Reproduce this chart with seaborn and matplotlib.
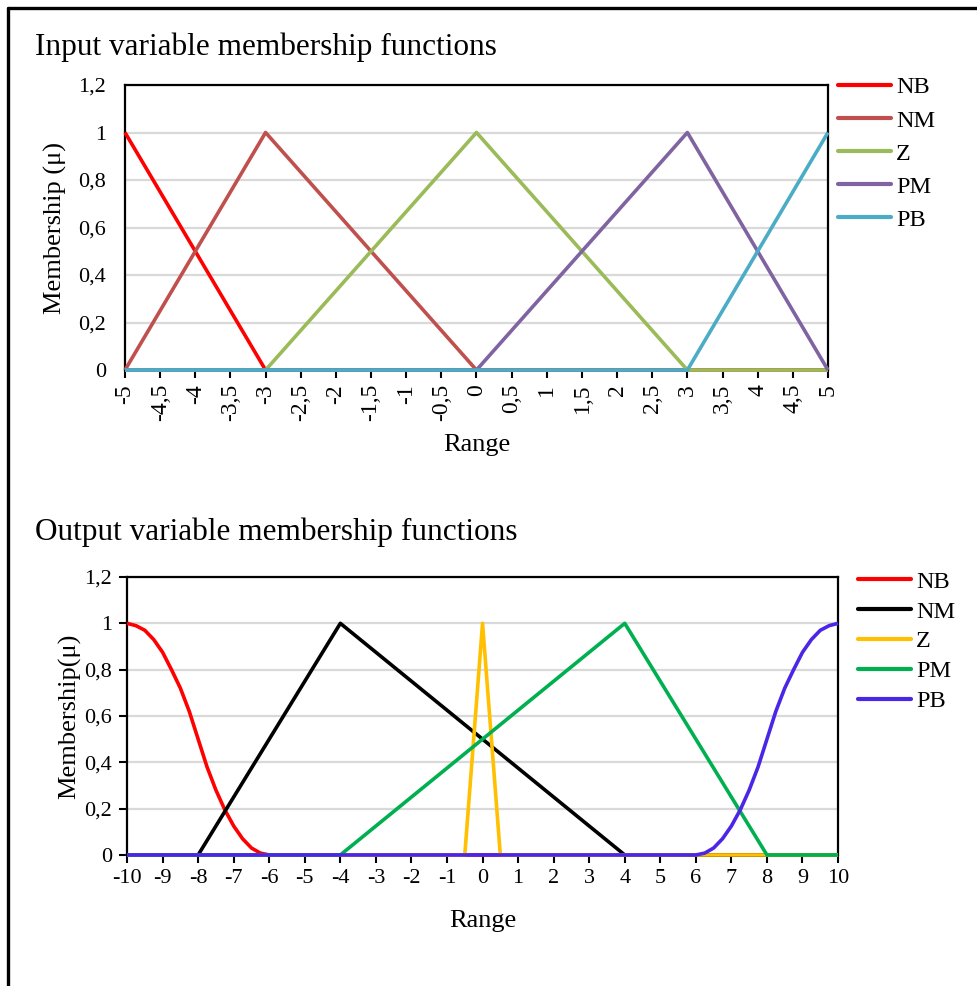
import pandas as pd
import seaborn as sns
import matplotlib.pyplot as plt
from matplotlib.lines import Line2D
from matplotlib.ticker import FuncFormatter

# input membership functions (triangles on -5..5)
in_names = ['NB', 'NM', 'Z', 'PM', 'PB']
in_colors = ['#FF0000', '#C0504D', '#9BBB59', '#8064A2', '#4BACC6']
in_x = {
    'NB': [-5, -3, 5],
    'NM': [-5, -3, 0, 5],
    'Z': [-5, -3, 0, 3, 5],
    'PM': [-5, 0, 3, 5],
    'PB': [-5, 3, 5],
}
in_y = {
    'NB': [1, 0, 0],
    'NM': [0, 1, 0, 0],
    'Z': [0, 0, 1, 0, 0],
    'PM': [0, 0, 1, 0],
    'PB': [0, 0, 1],
}

# output membership functions (-10..10), NB / PB are S-shaped curves
out_names = ['NB', 'NM', 'Z', 'PM', 'PB']
out_colors = ['#FF0000', '#000000', '#FFC000', '#00B050', '#4B26E6']
out_x = {
    'NB': [-10, -9.75, -9.5, -9.25, -9, -8.75, -8.5, -8.25, -8, -7.75, -7.5,
           -7.25, -7, -6.75, -6.5, -6.25, -6, 10],
    'NM': [-10, -8, -4, 4, 10],
    'Z': [-10, -0.5, 0, 0.5, 10],
    'PM': [-10, -4, 4, 8, 10],
    'PB': [-10, 6, 6.25, 6.5, 6.75, 7, 7.25, 7.5, 7.75, 8, 8.25, 8.5, 8.75,
           9, 9.25, 9.5, 9.75, 10],
}
out_y = {
    'NB': [1, 0.99, 0.97, 0.93, 0.875, 0.8, 0.72, 0.62, 0.5, 0.38, 0.28,
           0.195, 0.125, 0.07, 0.03, 0.008, 0, 0],
    'NM': [0, 0, 1, 0, 0],
    'Z': [0, 0, 1, 0, 0],
    'PM': [0, 0, 1, 0, 0],
    'PB': [0, 0, 0.008, 0.03, 0.07, 0.125, 0.195, 0.28, 0.38, 0.5, 0.62,
           0.72, 0.8, 0.875, 0.93, 0.97, 0.99, 1],
}


def to_long(names, xs, ys):
    rows = []
    for n in names:
        for a, b in zip(xs[n], ys[n]):
            rows.append({'x': a, 'y': b, 'series': n})
    return pd.DataFrame(rows)


def comma(v, pos):
    s = ('%.1f' % v).rstrip('0').rstrip('.')
    if s == '-0':
        s = '0'
    return s.replace('.', ',')


sns.set_style('white')
plt.rcParams['font.family'] = ['Liberation Serif', 'DejaVu Serif']
plt.rcParams['text.color'] = 'black'
plt.rcParams['axes.labelcolor'] = 'black'
plt.rcParams['xtick.color'] = 'black'
plt.rcParams['ytick.color'] = 'black'

fig = plt.figure(figsize=(9.78, 9.86), dpi=100)
ax1 = fig.add_axes([0.1278, 0.6247, 0.7188, 0.2891])
ax2 = fig.add_axes([0.1299, 0.1329, 0.7270, 0.2819])

grid_c = '#D9D9D9'

for ax, names, colors, xs, ys in [(ax1, in_names, in_colors, in_x, in_y),
                                   (ax2, out_names, out_colors, out_x, out_y)]:
    df = to_long(names, xs, ys)
    sns.lineplot(data=df, x='x', y='y', hue='series', hue_order=names,
                 palette=colors, sort=False, estimator=None, linewidth=2.6,
                 ax=ax)
    for ln in ax.get_lines():
        ln.set_clip_on(False)
        ln.set_solid_capstyle('butt')
        ln.set_zorder(3)
    ax.set_ylim(0, 1.2)
    ax.set_yticks([0, 0.2, 0.4, 0.6, 0.8, 1, 1.2])
    ax.yaxis.set_major_formatter(FuncFormatter(comma))
    ax.grid(axis='y', color=grid_c, linewidth=1.6)
    ax.grid(axis='x', visible=False)
    ax.set_axisbelow(True)
    for side in ['top', 'left', 'right']:
        ax.spines[side].set_color('black')
        ax.spines[side].set_linewidth(1.6)
    ax.spines['bottom'].set_color(grid_c)
    ax.spines['bottom'].set_linewidth(1.6)
    ax.spines['bottom'].set_zorder(1)
    ax.tick_params(axis='x', bottom=True, length=6, width=1.5, color='black',
                   labelcolor='black', pad=4)
    ax.tick_params(axis='y', labelcolor='black')

# top chart
ax1.set_xlim(-5, 5)
ax1.set_xticks([i * 0.5 for i in range(-10, 11)])
ax1.xaxis.set_major_formatter(FuncFormatter(comma))
ax1.tick_params(axis='x', labelrotation=90, labelsize=17)
ax1.tick_params(axis='y', left=False, labelsize=16, pad=10)
ax1.set_xlabel('Range', fontsize=19, labelpad=9)
ax1.set_ylabel('Membership (\u03bc)', fontsize=19, labelpad=8)
sns.move_legend(ax1, 'upper left', bbox_to_anchor=(1.014, 1.03), title=None,
                frameon=False, fontsize=17.5, handlelength=2.2,
                handletextpad=0.2, labelspacing=0.455, borderaxespad=0,
                borderpad=0)

# bottom chart
ax2.set_xlim(-10, 10)
ax2.set_xticks(range(-10, 11))
ax2.xaxis.set_major_formatter(FuncFormatter(comma))
ax2.tick_params(axis='x', labelsize=16)
ax2.tick_params(axis='y', left=True, length=6, width=1.5, color='black',
                labelsize=16, pad=5)
ax2.set_xlabel('Range', fontsize=19, labelpad=16)
ax2.set_ylabel('Membership(\u03bc)', fontsize=19, labelpad=2)
sns.move_legend(ax2, 'upper left', bbox_to_anchor=(1.028, 1.022), title=None,
                frameon=False, fontsize=17.5, handlelength=2.2,
                handletextpad=0.2, labelspacing=0.32, borderaxespad=0,
                borderpad=0)
for lg in [ax1.get_legend(), ax2.get_legend()]:
    for h in lg.legend_handles:
        h.set_linewidth(3)
    for t in lg.get_texts():
        t.set_color('black')

fig.text(35 / 978, 1 - 47 / 986, 'Input variable membership functions',
         fontsize=22.5, va='center', ha='left', color='black')
fig.text(35 / 978, 1 - 532 / 986, 'Output variable membership functions',
         fontsize=22.5, va='center', ha='left', color='black')

# frame lines around the figure (top and left only)
fig.add_artist(Line2D([8 / 978, 1], [1 - 8 / 986, 1 - 8 / 986],
                      color='black', linewidth=2.4,
                      transform=fig.transFigure))
fig.add_artist(Line2D([8 / 978, 8 / 978], [0, 1 - 8 / 986],
                      color='black', linewidth=2.4,
                      transform=fig.transFigure))

fig.savefig('out.png', dpi=100)
